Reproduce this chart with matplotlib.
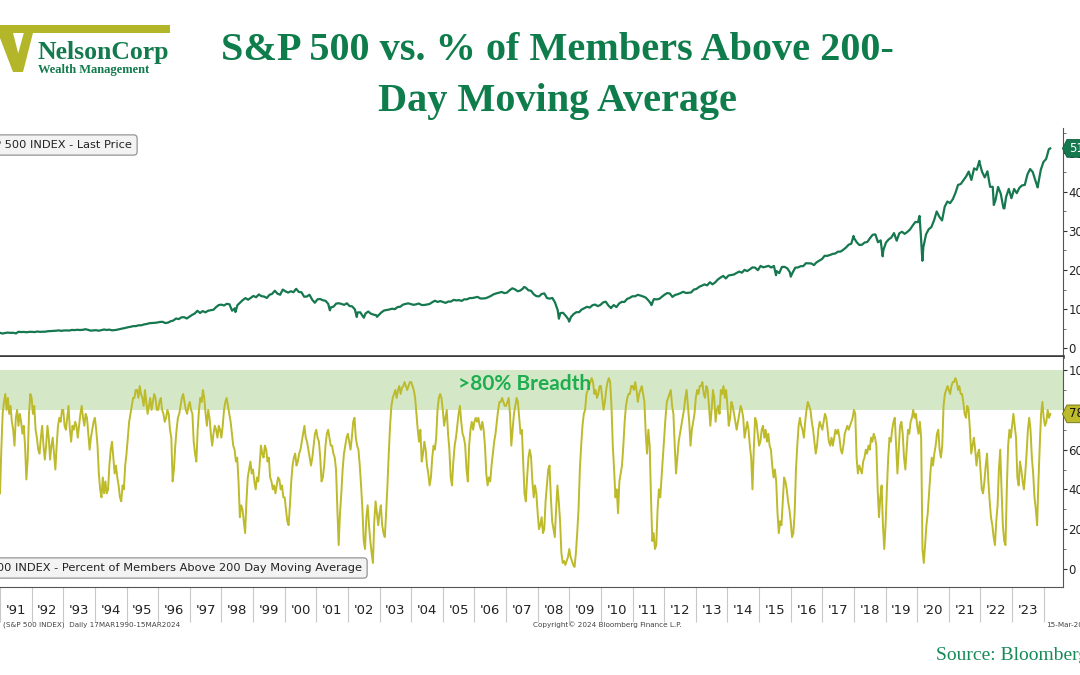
import numpy as np
import matplotlib.pyplot as plt
from matplotlib.path import Path
from matplotlib.patches import Polygon

# S&P 500 month-end closes, one row per year (1991-2023)
sp_years = list(range(1991, 2024))
sp_monthly = [
    [344, 367, 375, 375, 390, 371, 387, 395, 388, 392, 375, 417],
    [409, 413, 404, 415, 415, 408, 424, 414, 418, 419, 431, 436],
    [439, 443, 452, 440, 450, 451, 448, 464, 459, 468, 462, 466],
    [482, 467, 446, 451, 457, 444, 458, 475, 463, 472, 454, 459],
    [470, 487, 501, 515, 533, 545, 562, 562, 584, 582, 605, 616],
    [636, 640, 646, 654, 669, 671, 640, 652, 687, 705, 757, 741],
    [786, 791, 757, 801, 848, 885, 954, 899, 947, 915, 955, 970],
    [980, 1049, 1102, 1112, 1091, 1134, 1121, 957, 1017, 1099, 1164, 1229],
    [1280, 1238, 1286, 1335, 1302, 1373, 1329, 1320, 1283, 1363, 1389, 1469],
    [1394, 1366, 1499, 1452, 1421, 1455, 1431, 1518, 1437, 1429, 1315, 1320],
    [1366, 1240, 1160, 1249, 1256, 1224, 1211, 1134, 1041, 1060, 1139, 1148],
    [1130, 1107, 1147, 1077, 1067, 990, 912, 916, 815, 886, 936, 880],
    [856, 841, 848, 917, 964, 975, 990, 1008, 996, 1051, 1058, 1112],
    [1131, 1145, 1126, 1107, 1121, 1141, 1102, 1104, 1115, 1130, 1174, 1212],
    [1181, 1204, 1181, 1157, 1192, 1191, 1234, 1220, 1229, 1207, 1249, 1248],
    [1280, 1281, 1295, 1311, 1270, 1270, 1277, 1304, 1336, 1378, 1401, 1418],
    [1438, 1407, 1421, 1482, 1531, 1503, 1455, 1474, 1527, 1549, 1481, 1468],
    [1379, 1331, 1323, 1386, 1400, 1280, 1267, 1283, 1166, 969, 896, 903],
    [826, 735, 798, 873, 919, 919, 987, 1021, 1057, 1036, 1096, 1115],
    [1074, 1104, 1169, 1187, 1089, 1031, 1102, 1049, 1141, 1183, 1181, 1258],
    [1286, 1327, 1326, 1364, 1345, 1321, 1292, 1219, 1131, 1253, 1247, 1258],
    [1312, 1366, 1408, 1398, 1310, 1362, 1379, 1407, 1441, 1412, 1416, 1426],
    [1498, 1515, 1569, 1598, 1631, 1606, 1686, 1633, 1682, 1757, 1806, 1848],
    [1783, 1859, 1872, 1884, 1924, 1960, 1931, 2003, 1972, 2018, 2068, 2059],
    [1995, 2105, 2068, 2086, 2107, 2063, 2104, 1972, 1920, 2079, 2080, 2044],
    [1940, 1932, 2060, 2065, 2097, 2099, 2174, 2171, 2168, 2126, 2199, 2239],
    [2279, 2364, 2363, 2384, 2412, 2423, 2470, 2472, 2519, 2575, 2648, 2674],
    [2824, 2714, 2641, 2648, 2705, 2718, 2816, 2902, 2914, 2712, 2760, 2507],
    [2704, 2784, 2834, 2946, 2752, 2942, 2980, 2926, 2977, 3038, 3141, 3231],
    [3226, 2954, 2585, 2912, 3044, 3100, 3271, 3500, 3363, 3270, 3622, 3756],
    [3714, 3811, 3973, 4181, 4204, 4298, 4395, 4523, 4308, 4605, 4567, 4766],
    [4516, 4374, 4530, 4132, 4132, 3785, 4130, 3955, 3586, 3872, 4080, 3840],
    [4077, 3970, 4109, 4169, 4180, 4450, 4589, 4508, 4288, 4194, 4568, 4770],
]
sp_2024 = [4846, 5096]
# intra-month turning points (decimal year, level)
sp_turn_t = [1998.77, 2001.72, 2002.56, 2002.78, 2003.19, 2007.78, 2008.87, 2009.19,
             2010.50, 2011.76, 2015.65, 2016.11, 2018.07, 2018.98, 2020.13, 2020.22,
             2022.00, 2022.45, 2022.78, 2023.82, 2024.21]
sp_turn_v = [923, 966, 797, 777, 800, 1565, 752, 677,
             1022, 1099, 1867, 1829, 2873, 2351, 3386, 2237,
             4797, 3667, 3577, 4117, 5117]

# % of members above 200-day MA, two readings per month, one row per year
br_years = list(range(1991, 2024))
breadth = [
    [38, 60, 78, 84, 88, 80, 86, 78, 82, 74, 70, 62, 76, 80, 72, 78, 74, 68, 72, 62, 45, 55, 78, 88],
    [86, 78, 82, 70, 66, 60, 58, 66, 72, 62, 55, 62, 72, 66, 55, 62, 66, 58, 50, 62, 72, 76, 74, 80],
    [80, 72, 70, 76, 82, 70, 64, 72, 70, 74, 72, 66, 72, 78, 82, 76, 72, 78, 76, 68, 60, 66, 70, 74],
    [76, 70, 62, 48, 40, 36, 46, 38, 44, 38, 40, 52, 60, 64, 56, 48, 52, 46, 42, 36, 34, 42, 40, 52],
    [58, 66, 74, 78, 82, 86, 86, 90, 90, 86, 92, 88, 86, 82, 90, 84, 78, 82, 86, 80, 84, 88, 86, 80],
    [80, 84, 86, 80, 78, 74, 76, 80, 78, 70, 66, 44, 50, 62, 70, 76, 78, 82, 86, 88, 84, 80, 78, 82],
    [84, 80, 78, 64, 58, 54, 70, 80, 86, 84, 90, 86, 78, 72, 80, 76, 68, 62, 68, 72, 70, 66, 72, 70],
    [66, 72, 80, 84, 86, 82, 78, 74, 68, 62, 60, 54, 56, 44, 26, 32, 30, 24, 18, 34, 46, 50, 54, 48],
    [50, 44, 40, 46, 44, 52, 62, 58, 56, 62, 60, 54, 56, 46, 44, 40, 42, 38, 42, 46, 45, 40, 42, 36],
    [36, 30, 24, 22, 32, 44, 52, 56, 58, 52, 54, 58, 60, 64, 68, 72, 66, 64, 60, 56, 52, 56, 62, 68],
    [70, 66, 64, 56, 44, 46, 52, 62, 68, 70, 66, 62, 62, 58, 56, 50, 30, 12, 28, 38, 50, 58, 62, 66],
    [68, 64, 60, 66, 74, 76, 66, 62, 60, 52, 42, 30, 14, 10, 26, 32, 22, 14, 8, 3, 24, 34, 28, 22],
    [28, 32, 22, 18, 16, 28, 42, 58, 72, 82, 86, 88, 90, 86, 90, 92, 88, 91, 92, 94, 92, 90, 92, 94],
    [94, 92, 90, 86, 78, 70, 64, 70, 54, 58, 64, 60, 52, 48, 42, 46, 56, 62, 60, 66, 80, 86, 88, 86],
    [80, 72, 76, 80, 68, 60, 46, 42, 54, 62, 66, 72, 78, 82, 74, 68, 66, 62, 50, 44, 62, 70, 74, 70],
    [74, 76, 74, 76, 72, 70, 74, 70, 62, 48, 42, 46, 44, 52, 58, 64, 68, 74, 80, 84, 84, 86, 84, 82],
    [82, 84, 86, 78, 62, 70, 78, 82, 86, 84, 76, 68, 70, 54, 38, 34, 46, 56, 60, 56, 44, 36, 42, 38],
    [28, 20, 22, 26, 18, 20, 34, 42, 50, 52, 36, 24, 20, 16, 30, 42, 34, 24, 8, 3, 4, 2, 4, 6],
    [10, 6, 4, 2, 1, 8, 18, 30, 50, 62, 72, 78, 80, 88, 90, 92, 94, 96, 94, 88, 90, 86, 88, 92],
    [92, 86, 80, 84, 90, 94, 96, 94, 82, 62, 50, 36, 40, 28, 44, 48, 52, 62, 74, 82, 86, 88, 88, 92],
    [92, 90, 94, 90, 84, 88, 90, 92, 88, 84, 68, 58, 70, 62, 36, 14, 18, 10, 12, 30, 40, 36, 46, 56],
    [66, 76, 84, 86, 88, 90, 82, 78, 62, 48, 56, 64, 68, 72, 76, 80, 86, 90, 82, 74, 62, 70, 74, 78],
    [86, 90, 88, 92, 92, 94, 88, 86, 92, 90, 82, 72, 80, 90, 86, 74, 80, 82, 78, 90, 88, 92, 86, 90],
    [82, 72, 76, 84, 82, 78, 74, 70, 74, 78, 82, 80, 76, 66, 70, 74, 70, 62, 56, 40, 60, 76, 74, 68],
    [62, 64, 70, 72, 66, 70, 64, 68, 62, 60, 52, 46, 50, 44, 28, 18, 24, 22, 34, 46, 44, 40, 34, 30],
    [24, 16, 18, 28, 50, 62, 72, 76, 72, 70, 66, 74, 80, 84, 82, 80, 74, 70, 64, 58, 62, 70, 74, 72],
    [70, 74, 78, 76, 70, 64, 62, 66, 62, 66, 70, 68, 70, 66, 60, 58, 62, 68, 70, 72, 70, 72, 74, 76],
    [80, 78, 56, 48, 52, 50, 48, 54, 56, 60, 58, 62, 60, 66, 64, 68, 66, 62, 40, 26, 36, 42, 22, 10],
    [22, 40, 56, 66, 64, 70, 74, 76, 62, 48, 60, 72, 74, 68, 56, 50, 60, 70, 68, 74, 76, 80, 76, 78],
    [72, 68, 74, 66, 10, 3, 12, 22, 28, 38, 48, 56, 52, 58, 62, 68, 70, 60, 56, 62, 82, 88, 90, 92],
    [90, 88, 92, 94, 94, 96, 94, 90, 92, 88, 88, 84, 78, 76, 82, 80, 70, 58, 62, 66, 60, 52, 58, 60],
    [50, 40, 38, 44, 52, 58, 44, 34, 26, 22, 16, 12, 24, 32, 50, 60, 40, 22, 14, 12, 40, 62, 70, 66],
    [72, 78, 72, 66, 46, 42, 54, 50, 44, 40, 48, 58, 70, 76, 70, 56, 48, 36, 30, 22, 44, 62, 78, 84],
]
breadth_2024 = [76, 72, 74, 80, 76, 78]

year_ticks = list(range(1991, 2025))
year_labels = ["'%02d" % (y % 100) for y in range(1991, 2024)]

GREEN = '#15784f'
OLIVE = '#bdba2c'
BAND = '#d4e8c8'
TITLE_GREEN = '#0f7d4b'

# ---- assemble series
sp_t = [y + (m + 1) / 12 for y in sp_years for m in range(12)]
sp_v = [v for row in sp_monthly for v in row]
sp_t += [2024 + (m + 1) / 12 for m in range(len(sp_2024))]
sp_v += sp_2024
sp_t += sp_turn_t
sp_v += sp_turn_v
order = np.argsort(sp_t)
sp_t = np.array(sp_t)[order]
sp_v = np.array(sp_v)[order]

br_t = [y + k / 24 for y in br_years for k in range(24)]
br_v = [v for row in breadth for v in row]
br_t += [2024 + k / 24 for k in range(len(breadth_2024))]
br_v += breadth_2024

x0, x1 = 1991.42, 2024.61

fig = plt.figure(figsize=(10.8, 6.75), dpi=100)
fig.patch.set_facecolor('white')

def tag_box(x0_, y0_, width, height, mutation_size):
    pad = 0.2 * mutation_size
    x0_ -= pad
    y0_ -= pad
    width += 2 * pad
    height += 2 * pad
    tip = height * 0.25
    verts = [(x0_ - tip, y0_ + height / 2), (x0_, y0_), (x0_ + width, y0_),
             (x0_ + width, y0_ + height), (x0_, y0_ + height),
             (x0_ - tip, y0_ + height / 2)]
    return Path(verts, closed=True)

# ---- top panel: S&P 500
ax1 = fig.add_axes([0, 1 - 357 / 675, 1063 / 1080, (357 - 128) / 675])
ax1.plot(sp_t, sp_v, color=GREEN, lw=1.6)
ax1.set_xlim(x0, x1)
ax1.set_ylim(-230, 5640)
ax1.yaxis.tick_right()
ax1.set_yticks(range(0, 6000, 1000))
ax1.set_yticks(range(500, 6000, 1000), minor=True)
ax1.tick_params(axis='y', which='major', direction='out', length=3, pad=1,
                labelsize=8.5, colors='#333333', labelcolor='#222222')
ax1.tick_params(axis='y', which='minor', direction='out', length=2, colors='#555555')
ax1.tick_params(axis='x', which='both', bottom=False, labelbottom=False)
ax1.spines['top'].set_visible(False)
ax1.spines['left'].set_visible(False)
ax1.spines['right'].set_color('#555555')
ax1.spines['bottom'].set_color('#3a3a3a')
ax1.spines['bottom'].set_linewidth(2.6)
ax1.annotate('%d' % sp_v[-1], xy=(1, sp_v[-1]), xycoords=('axes fraction', 'data'),
             xytext=(4.5, 0), textcoords='offset points', ha='left', va='center',
             fontsize=8.5, color='white', annotation_clip=False,
             bbox=dict(boxstyle=tag_box, fc=GREEN, ec='#0d5e3c', lw=0.6))

# ---- bottom panel: breadth
ax2 = fig.add_axes([0, 1 - 587 / 675, 1063 / 1080, (587 - 357) / 675])
ax2.axhspan(80, 100, color=BAND, lw=0, zorder=0)
ax2.plot(br_t, br_v, color=OLIVE, lw=1.4, zorder=2)
ax2.set_xlim(x0, x1)
ax2.set_ylim(-9.1, 106.6)
ax2.yaxis.tick_right()
ax2.set_yticks(range(0, 101, 20))
ax2.set_yticks(range(10, 101, 20), minor=True)
ax2.tick_params(axis='y', which='major', direction='out', length=3, pad=1,
                labelsize=8.5, colors='#333333', labelcolor='#222222')
ax2.tick_params(axis='y', which='minor', direction='out', length=2, colors='#555555')
ax2.set_xticks(year_ticks)
ax2.set_xticklabels([])
ax2.set_xticks([y + 0.5 for y in range(1991, 2024)], minor=True)
ax2.set_xticklabels(year_labels, minor=True)
ax2.tick_params(axis='x', which='major', direction='out', length=25, width=0.8,
                color='#c8c8c8')
ax2.tick_params(axis='x', which='minor', length=0, pad=12, labelsize=9.5,
                labelcolor='#222222')
ax2.spines['top'].set_visible(False)
ax2.spines['left'].set_visible(False)
ax2.spines['right'].set_color('#555555')
ax2.spines['bottom'].set_color('#555555')
ax2.text(2007.6, 93, '>80% Breadth', ha='center', va='center', fontsize=15,
         fontweight='bold', family=['Lato', 'DejaVu Sans'], color='#1fae4f', zorder=3)
ax2.annotate('%d' % br_v[-1], xy=(1, br_v[-1]), xycoords=('axes fraction', 'data'),
             xytext=(4.5, 0), textcoords='offset points', ha='left', va='center',
             fontsize=8.5, color='#111111', annotation_clip=False,
             bbox=dict(boxstyle=tag_box, fc=OLIVE, ec='#6f6c10', lw=0.6))

# ---- overlay in pixel units: title, logo, legend boxes, footer
ov = fig.add_axes([0, 0, 1, 1], zorder=10)
ov.set_xlim(0, 1080)
ov.set_ylim(675, 0)
ov.axis('off')
ov.patch.set_alpha(0)

ov.text(557, 51, 'S&P 500 vs. % of Members Above 200-', ha='center', va='center',
        fontsize=29, fontweight='bold', family='Liberation Serif', color=TITLE_GREEN)
ov.text(557, 101, 'Day Moving Average', ha='center', va='center',
        fontsize=29, fontweight='bold', family='Liberation Serif', color=TITLE_GREEN)

# logo
LOGO_OLIVE = '#b4b62a'
ov.add_patch(Polygon([(0, 25), (170, 25), (170, 33), (0, 33)], closed=True,
                     fc=LOGO_OLIVE, ec='none'))
ov.add_patch(Polygon([(0, 25), (11, 25), (23, 72), (13, 72), (0, 38)], closed=True,
                     fc=LOGO_OLIVE, ec='none'))
ov.add_patch(Polygon([(13, 72), (23, 72), (35, 25), (26, 25)], closed=True,
                     fc=LOGO_OLIVE, ec='none'))
ov.text(37, 59, 'NelsonCorp', ha='left', va='baseline', fontsize=18.5,
        fontweight='bold', family='Liberation Serif', color='#127a4c')
ov.text(38, 73, 'Wealth Management', ha='left', va='baseline', fontsize=9,
        fontweight='bold', family='Liberation Serif', color='#127a4c')

box = dict(boxstyle='round,pad=0.45,rounding_size=0.3', fc='#f3f3f3', ec='#8a8a8a', lw=0.8)
ov.text(132, 145, 'S&P 500 INDEX - Last Price', ha='right', va='center',
        fontsize=8.2, color='#222222', bbox=box)
ov.text(362, 568, 'S&P 500 INDEX - Percent of Members Above 200 Day Moving Average',
        ha='right', va='center', fontsize=8.2, color='#222222', bbox=box)

ov.text(3, 625, '(S&P 500 INDEX)  Daily 17MAR1990-15MAR2024', ha='left', va='center',
        fontsize=5.2, color='#444444')
ov.text(533, 625, 'Copyright\u00a9 2024 Bloomberg Finance L.P.', ha='left', va='center',
        fontsize=5.2, color='#444444')
ov.text(1046, 625, '15-Mar-2024', ha='left', va='center', fontsize=5.2, color='#444444')
ov.text(936, 655, 'Source: Bloomberg', ha='left', va='center', fontsize=14,
        family='Liberation Serif', color='#178a57')

fig.savefig('out.png', dpi=100)
